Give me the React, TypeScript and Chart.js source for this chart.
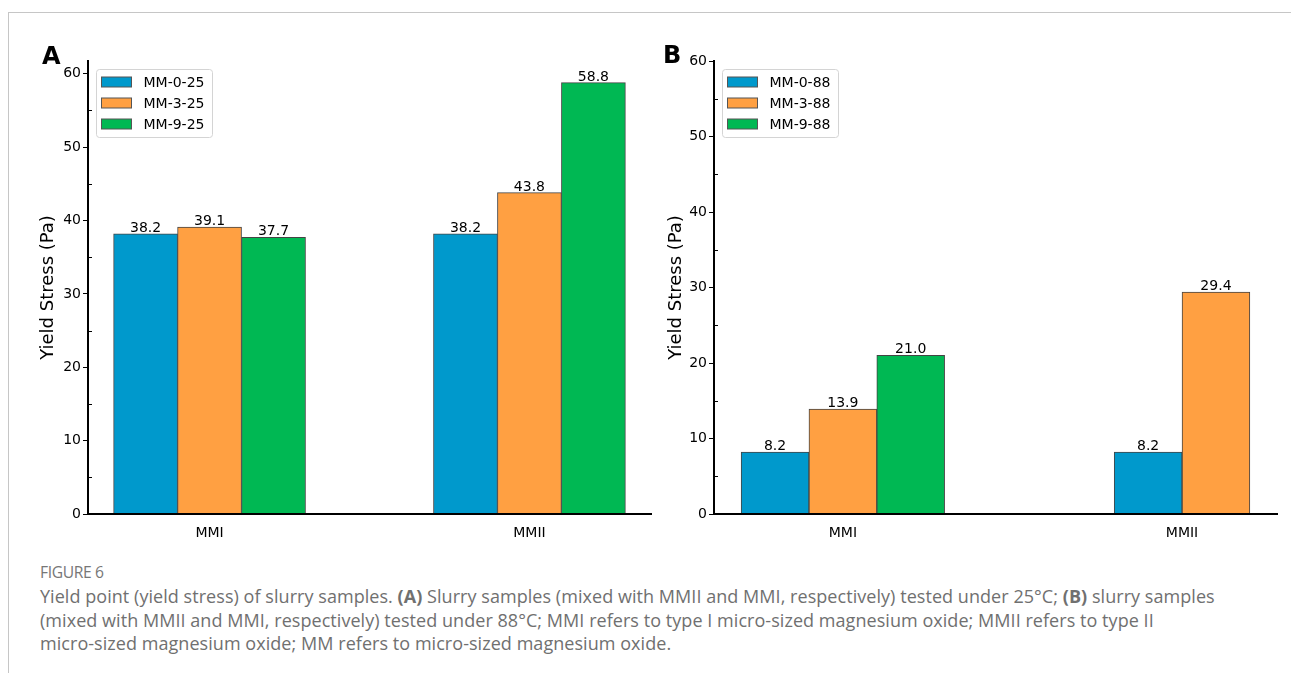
import React, { useEffect, useRef } from "react";
import { Chart, registerables } from "chart.js";

Chart.register(...registerables);

// ---------- data ----------
const categories = ["MMI", "MMII"];
const seriesNamesA = ["MM-0-25", "MM-3-25", "MM-9-25"];
const mm0_25 = [38.2, 38.2];
const mm3_25 = [39.1, 43.8];
const mm9_25 = [37.7, 58.8];
const seriesNamesB = ["MM-0-88", "MM-3-88", "MM-9-88"];
const mm0_88 = [8.2, 8.2];
const mm3_88 = [13.9, 29.4];
const mm9_88: (number | null)[] = [21.0, null];
const yTicks = [0, 10, 20, 30, 40, 50, 60];
const yMinorTicks = [5, 15, 25, 35, 45, 55];

// ---------- style ----------
const barColors = ["#0099cc", "#ffa042", "#00b853"];
const barEdge = "#444444";
const groupStep = 0.2;
const FONT = "DejaVu Sans";

type PanelProps = {
  left: number;
  width: number;
  height: number;
  seriesNames: string[];
  series: (number | null)[][];
  yMax: number;
  xMin: number;
  xMax: number;
  axisWidth: number;
  titlePad: number;
  padRight: number;
  padTop: number;
  xAxisHeight: number;
};

const valueLabels = {
  id: "valueLabels",
  afterDatasetsDraw(chart: any) {
    const ctx = chart.ctx;
    ctx.save();
    ctx.font = `14px "${FONT}"`;
    ctx.fillStyle = "#000";
    ctx.textAlign = "center";
    ctx.textBaseline = "alphabetic";
    chart.data.datasets.forEach((ds: any, di: number) => {
      const meta = chart.getDatasetMeta(di);
      meta.data.forEach((el: any, i: number) => {
        const v = ds.data[i].y;
        if (v == null) return;
        ctx.fillText(v.toFixed(1), el.x, el.y - 2);
      });
    });
    ctx.restore();
  },
};

const minorTicks = {
  id: "minorTicks",
  afterDraw(chart: any) {
    const ctx = chart.ctx;
    const ys = chart.scales.y;
    const left = chart.chartArea.left;
    ctx.save();
    ctx.strokeStyle = "#000";
    ctx.lineWidth = 1;
    yMinorTicks.forEach((v) => {
      if (v > ys.max) return;
      const y = Math.round(ys.getPixelForValue(v)) + 0.5;
      ctx.beginPath();
      ctx.moveTo(left + 1, y);
      ctx.lineTo(left + 4, y);
      ctx.stroke();
    });
    ctx.restore();
  },
};

const boxLegend = {
  id: "boxLegend",
  afterDraw(chart: any) {
    const ctx = chart.ctx;
    const { left, top } = chart.chartArea;
    const bx = Math.round(left + 8) + 0.5;
    const by = Math.round(top + 8) + 0.5;
    const bw = 116;
    const bh = 68;
    ctx.save();
    ctx.beginPath();
    (ctx as any).roundRect(bx, by, bw, bh, 3);
    ctx.fillStyle = "rgba(255,255,255,0.85)";
    ctx.fill();
    ctx.strokeStyle = "#d4d4d4";
    ctx.lineWidth = 1;
    ctx.stroke();
    ctx.font = `14px "${FONT}"`;
    ctx.textAlign = "left";
    ctx.textBaseline = "middle";
    chart.data.datasets.forEach((ds: any, i: number) => {
      const cy = by + 12.5 + i * 21;
      ctx.fillStyle = ds.backgroundColor;
      ctx.fillRect(bx + 5, cy - 5, 30, 10);
      ctx.strokeStyle = "#555";
      ctx.strokeRect(bx + 5, cy - 5, 30, 10);
      ctx.fillStyle = "#000";
      ctx.fillText(ds.label, bx + 47, cy + 1);
    });
    ctx.restore();
  },
};

function Panel(p: PanelProps) {
  const ref = useRef<HTMLCanvasElement>(null);
  useEffect(() => {
    const canvas = ref.current;
    if (!canvas) return;
    // bars present per category are centred around the category position
    const present = categories.map((_, ci) => p.series.map((s) => s[ci] != null));
    const datasets = p.series.map((vals, si) => ({
      label: p.seriesNames[si],
      data: vals.map((v, ci) => {
        const flags = present[ci];
        const n = flags.filter(Boolean).length;
        const rank = flags.slice(0, si).filter(Boolean).length;
        return { x: ci + (rank - (n - 1) / 2) * groupStep, y: v };
      }),
      backgroundColor: barColors[si],
      borderColor: barEdge,
      borderWidth: 1,
      grouped: false,
      categoryPercentage: 1,
      barPercentage: 1,
    }));
    const chart = new Chart(canvas, {
      type: "bar",
      data: { datasets } as any,
      options: {
        responsive: false,
        animation: false,
        layout: { padding: { top: p.padTop, right: p.padRight, left: 0, bottom: 0 } },
        plugins: { legend: { display: false }, tooltip: { enabled: false } },
        scales: {
          x: {
            type: "linear",
            min: p.xMin,
            max: p.xMax,
            offset: false,
            grid: { display: false },
            border: { display: true, color: "#000", width: 2, z: 1 },
            afterBuildTicks: (s: any) => {
              s.ticks = categories.map((_, i) => ({ value: i }));
            },
            afterFit: (s: any) => {
              s.height = p.xAxisHeight;
            },
            ticks: {
              callback: (v: any) => categories[v as number] ?? "",
              font: { family: FONT, size: 14 },
              color: "#000",
              padding: 3,
              maxRotation: 0,
              autoSkip: false,
            },
          },
          y: {
            type: "linear",
            min: 0,
            max: p.yMax,
            afterBuildTicks: (s: any) => {
              s.ticks = yTicks.map((v) => ({ value: v }));
            },
            afterFit: (s: any) => {
              s.width = p.axisWidth;
            },
            grid: { drawOnChartArea: false, tickLength: 5, tickWidth: 1, tickColor: "#000" },
            border: { display: true, color: "#000", width: 2, z: 1 },
            ticks: { font: { family: FONT, size: 14 }, color: "#000", padding: 2 },
            title: {
              display: true,
              text: "Yield Stress (Pa)",
              font: { family: FONT, size: 18 },
              color: "#000",
              padding: { top: p.titlePad, bottom: 0 },
            },
          },
        },
      } as any,
      plugins: [valueLabels, minorTicks, boxLegend],
    });
    return () => chart.destroy();
  }, []);
  return (
    <div style={{ position: "absolute", left: p.left, top: 0, width: p.width, height: p.height }}>
      <canvas ref={ref} width={p.width} height={p.height} style={{ width: p.width, height: p.height, display: "block" }} />
    </div>
  );
}

const captionStyle: React.CSSProperties = {
  position: "absolute",
  left: 40,
  fontFamily: "'Open Sans', sans-serif",
  fontSize: 18,
  letterSpacing: "0.05px",
  lineHeight: "20px",
  color: "#707070",
  whiteSpace: "nowrap",
};

export default function App() {
  return (
    <div
      style={{
        position: "fixed",
        left: 0,
        top: 0,
        width: 1291,
        height: 673,
        background: "#fff",
        overflow: "hidden",
      }}
    >
      <div style={{ position: "absolute", left: 8, top: 12, width: 1283, height: 1, background: "#c6c6c6" }} />
      <div style={{ position: "absolute", left: 8, top: 12, width: 1, height: 661, background: "#c6c6c6" }} />
      <Panel
        left={0}
        width={660}
        height={545}
        seriesNames={seriesNamesA}
        series={[mm0_25, mm3_25, mm9_25]}
        yMax={61.74}
        xMin={-0.38}
        xMax={1.38}
        axisWidth={88}
        titlePad={38}
        padRight={9}
        padTop={61}
        xAxisHeight={31}
      />
      <Panel
        left={630}
        width={661}
        height={545}
        seriesNames={seriesNamesB}
        series={[mm0_88, mm3_88, mm9_88]}
        yMax={60}
        xMin={-0.38}
        xMax={1.28}
        axisWidth={84}
        titlePad={36}
        padRight={14}
        padTop={61}
        xAxisHeight={31}
      />
      <div style={{ position: "absolute", left: 42, top: 44, fontFamily: FONT, fontWeight: "bold", fontSize: 24, lineHeight: "24px", color: "#000" }}>A</div>
      <div style={{ position: "absolute", left: 663, top: 43, fontFamily: FONT, fontWeight: "bold", fontSize: 24, lineHeight: "24px", color: "#000" }}>B</div>
      <div style={{ ...captionStyle, top: 562, fontSize: 17, letterSpacing: "-0.4px", transform: "scaleX(0.92)", transformOrigin: "left center", color: "#777" }}>FIGURE 6</div>
      <div style={{ ...captionStyle, top: 586 }}>
        Yield point (yield stress) of slurry samples. <b>(A)</b> Slurry samples (mixed with MMII and MMI, respectively) tested under 25°C; <b>(B)</b> slurry samples
      </div>
      <div style={{ ...captionStyle, top: 610 }}>
        (mixed with MMII and MMI, respectively) tested under 88°C; MMI refers to type I micro-sized magnesium oxide; MMII refers to type II
      </div>
      <div style={{ ...captionStyle, top: 633 }}>
        micro-sized magnesium oxide; MM refers to micro-sized magnesium oxide.
      </div>
    </div>
  );
}
